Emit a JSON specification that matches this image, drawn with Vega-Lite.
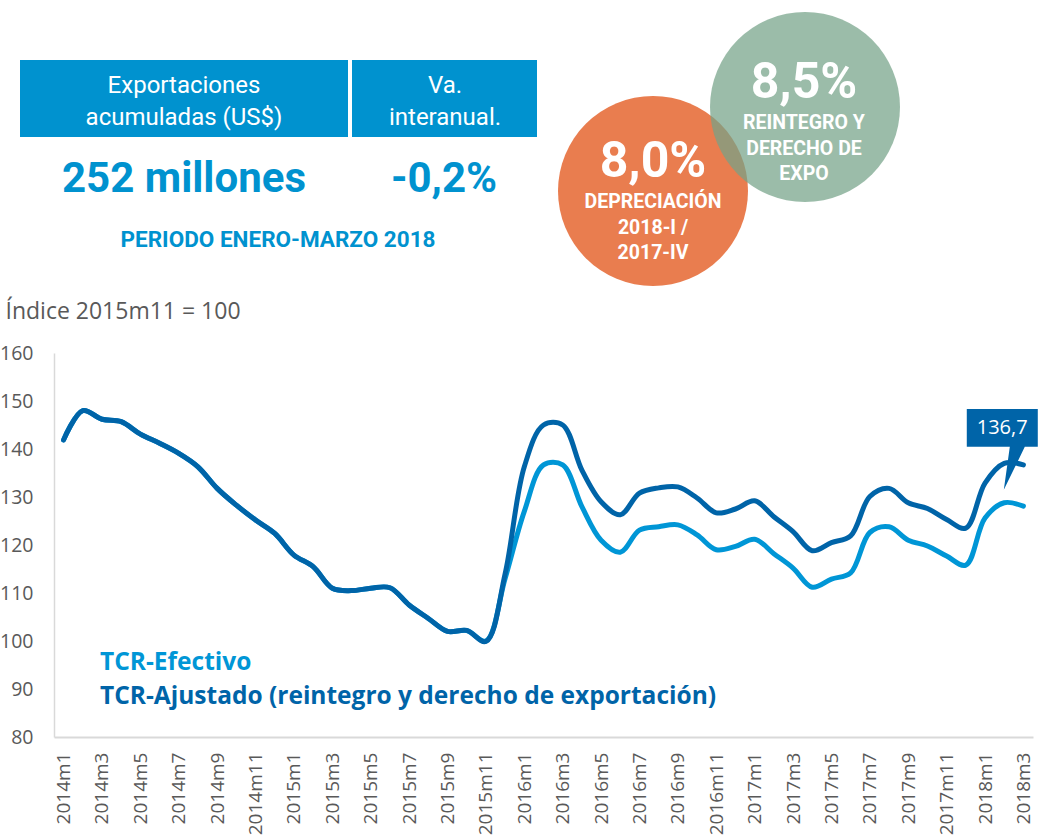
{
  "$schema": "https://vega.github.io/schema/vega-lite/v6.json",
  "width": 979,
  "height": 384,
  "autosize": {"type": "none"},
  "padding": {"left": 54, "top": 353, "right": 6, "bottom": 101},
  "background": "white",
  "config": {"view": {"stroke": null}, "font": "Open Sans"},
  "datasets": {
    "tcr": [
      {"mes": "2014m1", "efectivo": 141.9, "ajustado": 141.9},
      {"mes": "2014m2", "efectivo": 148.0, "ajustado": 148.0},
      {"mes": "2014m3", "efectivo": 146.2, "ajustado": 146.2},
      {"mes": "2014m4", "efectivo": 145.7, "ajustado": 145.7},
      {"mes": "2014m5", "efectivo": 143.1, "ajustado": 143.1},
      {"mes": "2014m6", "efectivo": 141.2, "ajustado": 141.2},
      {"mes": "2014m7", "efectivo": 139.1, "ajustado": 139.1},
      {"mes": "2014m8", "efectivo": 136.3, "ajustado": 136.3},
      {"mes": "2014m9", "efectivo": 131.8, "ajustado": 131.8},
      {"mes": "2014m10", "efectivo": 128.3, "ajustado": 128.3},
      {"mes": "2014m11", "efectivo": 125.2, "ajustado": 125.2},
      {"mes": "2014m12", "efectivo": 122.4, "ajustado": 122.4},
      {"mes": "2015m1", "efectivo": 117.9, "ajustado": 117.9},
      {"mes": "2015m2", "efectivo": 115.5, "ajustado": 115.5},
      {"mes": "2015m3", "efectivo": 111.0, "ajustado": 111.0},
      {"mes": "2015m4", "efectivo": 110.5, "ajustado": 110.5},
      {"mes": "2015m5", "efectivo": 111.0, "ajustado": 111.0},
      {"mes": "2015m6", "efectivo": 111.1, "ajustado": 111.1},
      {"mes": "2015m7", "efectivo": 107.5, "ajustado": 107.5},
      {"mes": "2015m8", "efectivo": 104.7, "ajustado": 104.7},
      {"mes": "2015m9", "efectivo": 102.0, "ajustado": 102.0},
      {"mes": "2015m10", "efectivo": 102.2, "ajustado": 102.2},
      {"mes": "2015m11", "efectivo": 100.0, "ajustado": 99.9},
      {"mes": "2015m12", "efectivo": 113.0, "ajustado": 114.0},
      {"mes": "2016m1", "efectivo": 127.0, "ajustado": 136.3},
      {"mes": "2016m2", "efectivo": 136.7, "ajustado": 145.0},
      {"mes": "2016m3", "efectivo": 136.7, "ajustado": 145.0},
      {"mes": "2016m4", "efectivo": 128.0, "ajustado": 135.6},
      {"mes": "2016m5", "efectivo": 121.0, "ajustado": 129.0},
      {"mes": "2016m6", "efectivo": 118.5, "ajustado": 126.3},
      {"mes": "2016m7", "efectivo": 123.1, "ajustado": 130.8},
      {"mes": "2016m8", "efectivo": 123.8, "ajustado": 131.9},
      {"mes": "2016m9", "efectivo": 124.2, "ajustado": 132.1},
      {"mes": "2016m10", "efectivo": 122.1, "ajustado": 129.8},
      {"mes": "2016m11", "efectivo": 119.0, "ajustado": 126.7},
      {"mes": "2016m12", "efectivo": 119.7, "ajustado": 127.5},
      {"mes": "2017m1", "efectivo": 121.2, "ajustado": 129.2},
      {"mes": "2017m2", "efectivo": 118.2, "ajustado": 125.9},
      {"mes": "2017m3", "efectivo": 115.2, "ajustado": 122.8},
      {"mes": "2017m4", "efectivo": 111.2, "ajustado": 118.8},
      {"mes": "2017m5", "efectivo": 112.9, "ajustado": 120.5},
      {"mes": "2017m6", "efectivo": 114.2, "ajustado": 121.9},
      {"mes": "2017m7", "efectivo": 122.6, "ajustado": 130.1},
      {"mes": "2017m8", "efectivo": 123.8, "ajustado": 131.8},
      {"mes": "2017m9", "efectivo": 121.0, "ajustado": 128.8},
      {"mes": "2017m10", "efectivo": 119.8, "ajustado": 127.6},
      {"mes": "2017m11", "efectivo": 117.7, "ajustado": 125.3},
      {"mes": "2017m12", "efectivo": 115.8, "ajustado": 123.5},
      {"mes": "2018m1", "efectivo": 125.6, "ajustado": 132.9},
      {"mes": "2018m2", "efectivo": 128.8, "ajustado": 137.0},
      {"mes": "2018m3", "efectivo": 128.1, "ajustado": 136.7}
    ]
  },
  "layer": [
    {
      "layer": [
        {
          "data": {"name": "tcr"},
          "mark": {"type": "line", "interpolate": "catmull-rom", "strokeWidth": 5, "strokeCap": "round", "strokeJoin": "round", "color": "#0096D6"},
          "encoding": {
            "x": {
              "field": "mes", "type": "ordinal", "sort": null,
              "scale": {"type": "point", "padding": 0.5, "domain": ["2014m1","2014m2","2014m3","2014m4","2014m5","2014m6","2014m7","2014m8","2014m9","2014m10","2014m11","2014m12","2015m1","2015m2","2015m3","2015m4","2015m5","2015m6","2015m7","2015m8","2015m9","2015m10","2015m11","2015m12","2016m1","2016m2","2016m3","2016m4","2016m5","2016m6","2016m7","2016m8","2016m9","2016m10","2016m11","2016m12","2017m1","2017m2","2017m3","2017m4","2017m5","2017m6","2017m7","2017m8","2017m9","2017m10","2017m11","2017m12","2018m1","2018m2","2018m3"]},
              "axis": {
                "title": null,
                "values": ["2014m1","2014m3","2014m5","2014m7","2014m9","2014m11","2015m1","2015m3","2015m5","2015m7","2015m9","2015m11","2016m1","2016m3","2016m5","2016m7","2016m9","2016m11","2017m1","2017m3","2017m5","2017m7","2017m9","2017m11","2018m1","2018m3"],
                "labelAngle": -90, "labelAlign": "right", "labelBaseline": "middle",
                "labelPadding": 15, "labelFontSize": 19, "labelColor": "#595959", "labelFont": "Open Sans",
                "ticks": false, "grid": false, "domainColor": "#D9D9D9", "domainWidth": 2, "labelOverlap": false
              }
            },
            "y": {
              "field": "efectivo", "type": "quantitative",
              "scale": {"domain": [80, 160], "nice": false, "zero": false},
              "axis": {
                "values": [80, 90, 100, 110, 120, 130, 140, 150, 160],
                "title": "Índice 2015m11 = 100", "titleAngle": 0, "titleAlign": "left", "titleBaseline": "middle",
                "titleX": -49, "titleY": -42, "titleFontSize": 23, "titleFontWeight": "normal", "titleColor": "#595959", "titleFont": "Open Sans",
                "labelPadding": 21, "labelFontSize": 19.5, "labelColor": "#595959", "labelFont": "Open Sans",
                "ticks": false, "grid": false, "domainColor": "#D9D9D9", "domainWidth": 1.5
              }
            }
          }
        },
        {
          "data": {"name": "tcr"},
          "mark": {"type": "line", "interpolate": "catmull-rom", "strokeWidth": 5, "strokeCap": "round", "strokeJoin": "round", "color": "#0064A8"},
          "encoding": {
            "x": {"field": "mes", "type": "ordinal", "sort": null},
            "y": {"field": "ajustado", "type": "quantitative"}
          }
        },
        {
          "data": {"values": [{"etiqueta": "TCR-Efectivo"}]},
          "mark": {"type": "text", "align": "left", "baseline": "middle", "fontWeight": "bold", "fontSize": 24.5, "font": "Open Sans", "color": "#0096D6", "dx": -2},
          "encoding": {
            "x": {"datum": "2014m3", "type": "ordinal"},
            "y": {"datum": 95.4, "type": "quantitative"},
            "text": {"field": "etiqueta"}
          }
        },
        {
          "data": {"values": [{"etiqueta": "TCR-Ajustado (reintegro y derecho de exportación)"}]},
          "mark": {"type": "text", "align": "left", "baseline": "middle", "fontWeight": "bold", "fontSize": 24.5, "font": "Open Sans", "color": "#0064A8", "dx": -2},
          "encoding": {
            "x": {"datum": "2014m3", "type": "ordinal"},
            "y": {"datum": 88.3, "type": "quantitative"},
            "text": {"field": "etiqueta"}
          }
        },
        {
          "data": {"values": [{"etiqueta": "136,7"}]},
          "mark": {"type": "point", "filled": true, "opacity": 1, "color": "#0064A8", "size": 5041, "shape": "M-1.054,-0.535H0.946V0.535H0.58L-0.011,1.746L0.158,0.535H-1.054Z"},
          "encoding": {
            "x": {"datum": "2018m2", "type": "ordinal"},
            "y": {"datum": 144.4, "type": "quantitative"}
          }
        },
        {
          "data": {"values": [{"etiqueta": "136,7"}]},
          "mark": {"type": "text", "align": "center", "baseline": "middle", "fontSize": 20, "font": "Open Sans", "color": "white", "dx": -2},
          "encoding": {
            "x": {"datum": "2018m2", "type": "ordinal"},
            "y": {"datum": 144.4, "type": "quantitative"},
            "text": {"field": "etiqueta"}
          }
        }
      ]
    },
    {
      "data": {"values": [{}]},
      "layer": [
        {
          "mark": {"type": "rect", "color": "#0092CF"},
          "encoding": {
            "x": {"datum": 20, "type": "quantitative", "scale": {"domain": [54, 1033], "nice": false, "zero": false}, "axis": null},
            "x2": {"datum": 348},
            "y": {"datum": 60, "type": "quantitative", "scale": {"domain": [353, 737], "nice": false, "zero": false, "reverse": true}, "axis": null},
            "y2": {"datum": 137}
          }
        },
        {
          "mark": {"type": "rect", "color": "#0092CF"},
          "encoding": {
            "x": {"datum": 352, "type": "quantitative", "scale": {"domain": [54, 1033], "nice": false, "zero": false}, "axis": null},
            "x2": {"datum": 537},
            "y": {"datum": 60, "type": "quantitative", "scale": {"domain": [353, 737], "nice": false, "zero": false, "reverse": true}, "axis": null},
            "y2": {"datum": 137}
          }
        },
        {
          "mark": {"type": "text", "text": ["Exportaciones", "acumuladas (US$)"], "lineHeight": 32, "align": "center", "baseline": "middle", "font": "Roboto", "fontSize": 24, "color": "white"},
          "encoding": {
            "x": {"datum": 184, "type": "quantitative", "scale": {"domain": [54, 1033], "nice": false, "zero": false}, "axis": null},
            "y": {"datum": 86, "type": "quantitative", "scale": {"domain": [353, 737], "nice": false, "zero": false, "reverse": true}, "axis": null}
          }
        },
        {
          "mark": {"type": "text", "text": ["Va.", "interanual."], "lineHeight": 32, "align": "center", "baseline": "middle", "font": "Roboto", "fontSize": 24, "color": "white"},
          "encoding": {
            "x": {"datum": 445, "type": "quantitative", "scale": {"domain": [54, 1033], "nice": false, "zero": false}, "axis": null},
            "y": {"datum": 86, "type": "quantitative", "scale": {"domain": [353, 737], "nice": false, "zero": false, "reverse": true}, "axis": null}
          }
        },
        {
          "mark": {"type": "text", "text": "252 millones", "align": "center", "baseline": "middle", "font": "Roboto", "fontWeight": "bold", "fontSize": 42, "color": "#0092CF"},
          "encoding": {
            "x": {"datum": 184, "type": "quantitative", "scale": {"domain": [54, 1033], "nice": false, "zero": false}, "axis": null},
            "y": {"datum": 179, "type": "quantitative", "scale": {"domain": [353, 737], "nice": false, "zero": false, "reverse": true}, "axis": null}
          }
        },
        {
          "mark": {"type": "text", "text": "-0,2%", "align": "center", "baseline": "middle", "font": "Roboto", "fontWeight": "bold", "fontSize": 42, "color": "#0092CF"},
          "encoding": {
            "x": {"datum": 444, "type": "quantitative", "scale": {"domain": [54, 1033], "nice": false, "zero": false}, "axis": null},
            "y": {"datum": 179, "type": "quantitative", "scale": {"domain": [353, 737], "nice": false, "zero": false, "reverse": true}, "axis": null}
          }
        },
        {
          "mark": {"type": "text", "text": "PERIODO ENERO-MARZO 2018", "align": "center", "baseline": "middle", "font": "Roboto", "fontWeight": "bold", "fontSize": 22.5, "color": "#0092CF"},
          "encoding": {
            "x": {"datum": 278, "type": "quantitative", "scale": {"domain": [54, 1033], "nice": false, "zero": false}, "axis": null},
            "y": {"datum": 240, "type": "quantitative", "scale": {"domain": [353, 737], "nice": false, "zero": false, "reverse": true}, "axis": null}
          }
        },
        {
          "mark": {"type": "point", "shape": "circle", "filled": true, "opacity": 1, "size": 36100, "color": "#E97D4F"},
          "encoding": {
            "x": {"datum": 653, "type": "quantitative", "scale": {"domain": [54, 1033], "nice": false, "zero": false}, "axis": null},
            "y": {"datum": 191, "type": "quantitative", "scale": {"domain": [353, 737], "nice": false, "zero": false, "reverse": true}, "axis": null}
          }
        },
        {
          "mark": {"type": "point", "shape": "circle", "filled": true, "opacity": 0.72, "size": 36100, "color": "#74A288"},
          "encoding": {
            "x": {"datum": 805, "type": "quantitative", "scale": {"domain": [54, 1033], "nice": false, "zero": false}, "axis": null},
            "y": {"datum": 107, "type": "quantitative", "scale": {"domain": [353, 737], "nice": false, "zero": false, "reverse": true}, "axis": null}
          }
        },
        {
          "mark": {"type": "text", "text": "8,0%", "align": "center", "baseline": "middle", "font": "Roboto", "fontWeight": "bold", "fontSize": 50, "color": "white"},
          "encoding": {
            "x": {"datum": 653, "type": "quantitative", "scale": {"domain": [54, 1033], "nice": false, "zero": false}, "axis": null},
            "y": {"datum": 162, "type": "quantitative", "scale": {"domain": [353, 737], "nice": false, "zero": false, "reverse": true}, "axis": null}
          }
        },
        {
          "mark": {"type": "text", "text": ["DEPRECIACIÓN", "2018-I /", "2017-IV"], "lineHeight": 25.5, "align": "center", "baseline": "middle", "font": "Roboto", "fontWeight": "bold", "fontSize": 19.5, "color": "white"},
          "encoding": {
            "x": {"datum": 653, "type": "quantitative", "scale": {"domain": [54, 1033], "nice": false, "zero": false}, "axis": null},
            "y": {"datum": 202, "type": "quantitative", "scale": {"domain": [353, 737], "nice": false, "zero": false, "reverse": true}, "axis": null}
          }
        },
        {
          "mark": {"type": "text", "text": "8,5%", "align": "center", "baseline": "middle", "font": "Roboto", "fontWeight": "bold", "fontSize": 50, "color": "white"},
          "encoding": {
            "x": {"datum": 804, "type": "quantitative", "scale": {"domain": [54, 1033], "nice": false, "zero": false}, "axis": null},
            "y": {"datum": 83, "type": "quantitative", "scale": {"domain": [353, 737], "nice": false, "zero": false, "reverse": true}, "axis": null}
          }
        },
        {
          "mark": {"type": "text", "text": ["REINTEGRO Y", "DERECHO DE", "EXPO"], "lineHeight": 25.5, "align": "center", "baseline": "middle", "font": "Roboto", "fontWeight": "bold", "fontSize": 19.5, "color": "white"},
          "encoding": {
            "x": {"datum": 804, "type": "quantitative", "scale": {"domain": [54, 1033], "nice": false, "zero": false}, "axis": null},
            "y": {"datum": 123, "type": "quantitative", "scale": {"domain": [353, 737], "nice": false, "zero": false, "reverse": true}, "axis": null}
          }
        }
      ]
    }
  ],
  "resolve": {"scale": {"x": "independent", "y": "independent"}, "axis": {"x": "independent", "y": "independent"}}
}
